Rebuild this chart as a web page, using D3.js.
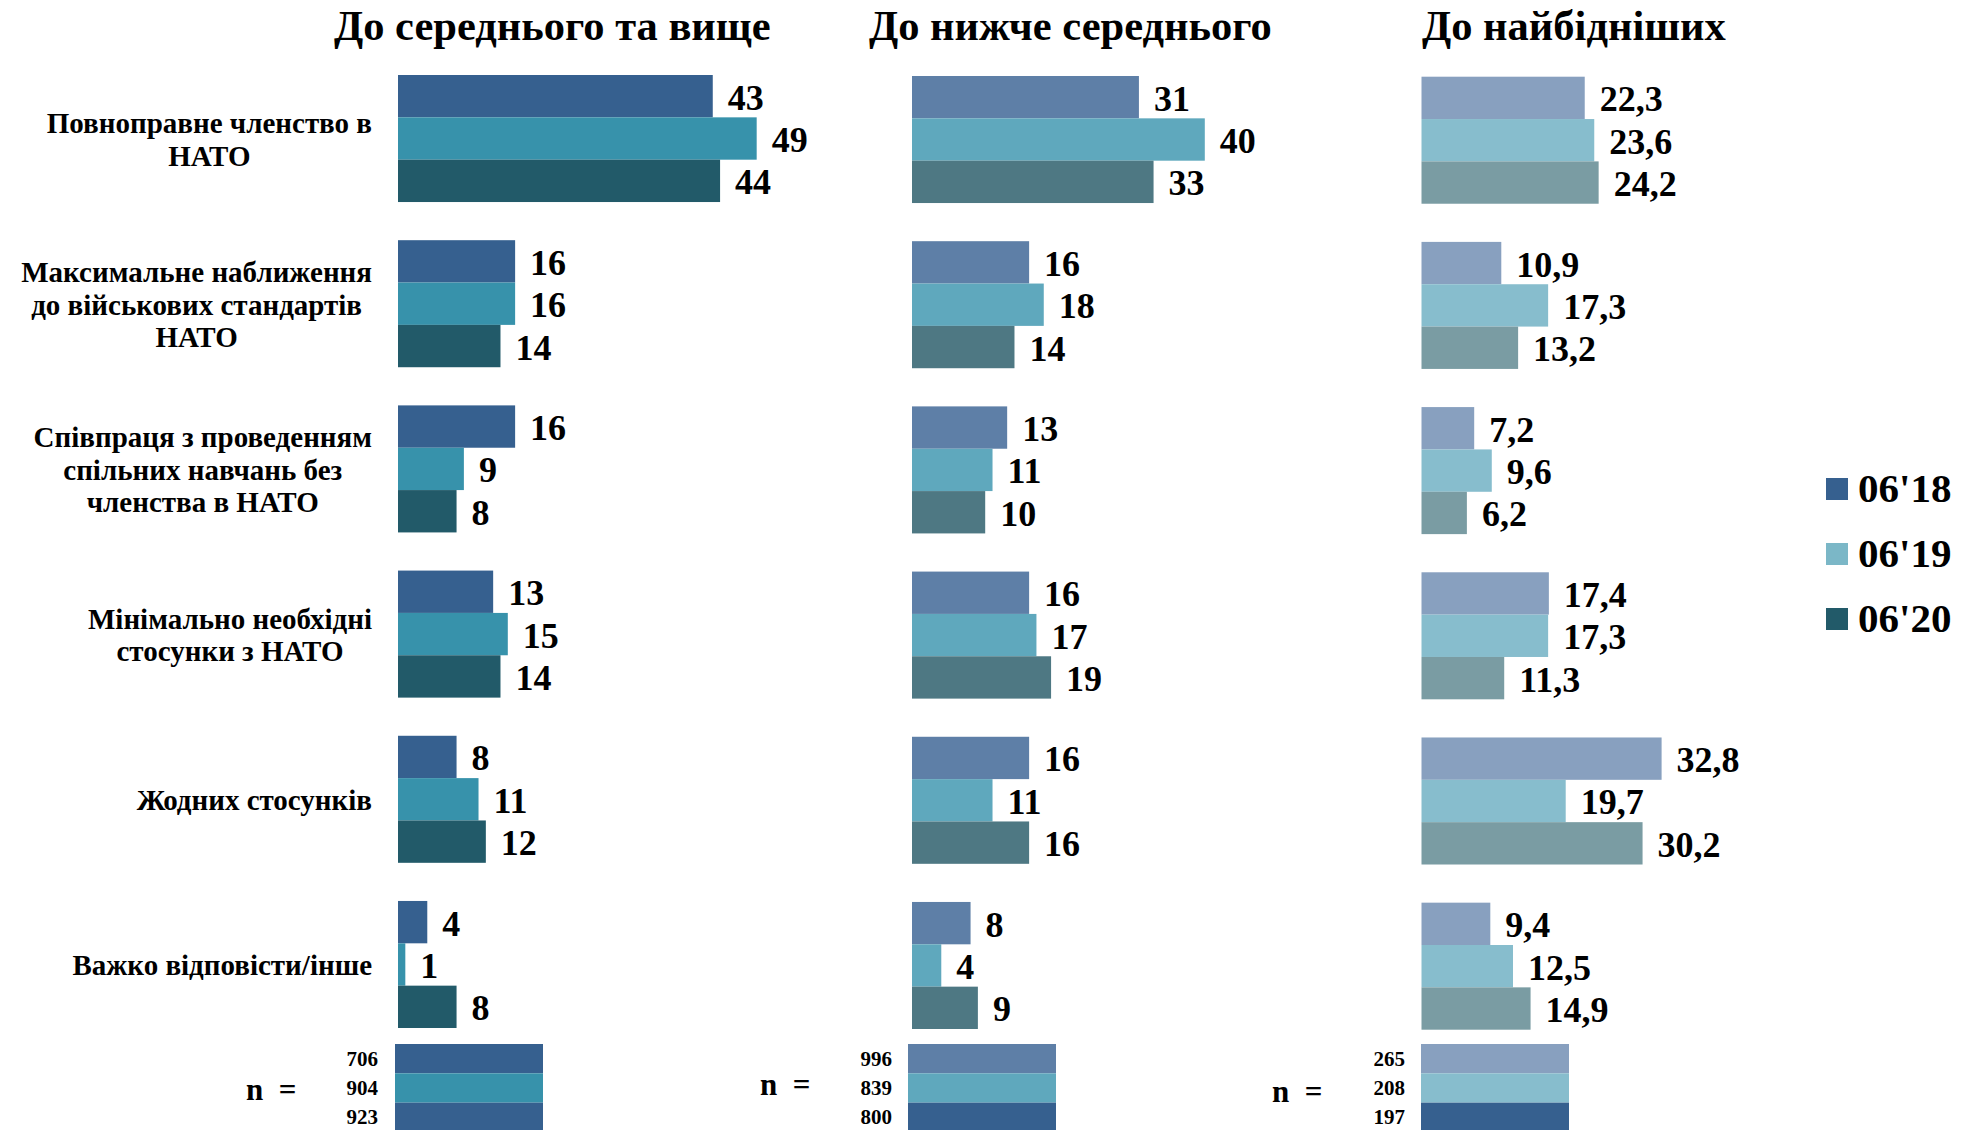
<!DOCTYPE html>
<html>
<head>
<meta charset="utf-8">
<script src="https://cdn.jsdelivr.net/npm/d3@7"></script>
<style>
  html, body { margin: 0; padding: 0; background: #ffffff; }
  svg { display: block; font-family: "Liberation Serif", "Times New Roman", serif; font-weight: bold; }
</style>
</head>
<body>
<svg id="chart" width="1978" height="1130"></svg>
<script>
// ---------- DATA ----------
const categories = [
  "Повноправне членство в НАТО",
  "Максимальне наближення до військових стандартів НАТО",
  "Співпраця з проведенням спільних навчань без членства в НАТО",
  "Мінімально необхідні стосунки з НАТО",
  "Жодних стосунків",
  "Важко відповісти/інше"
];
const categoryLines = [
  ["Повноправне членство в", "НАТО"],
  ["Максимальне наближення", "до військових стандартів", "НАТО"],
  ["Співпраця з проведенням", "спільних навчань без", "членства в НАТО"],
  ["Мінімально необхідні", "стосунки з НАТО"],
  ["Жодних стосунків"],
  ["Важко відповісти/інше"]
];
const seriesNames = ["06'18", "06'19", "06'20"];
const panelTitles = ["До середнього та вище", "До нижче середнього", "До найбідніших"];

// panel 1: До середнього та вище
const midHigh18 = [43, 16, 16, 13, 8, 4];
const midHigh19 = [49, 16, 9, 15, 11, 1];
const midHigh20 = [44, 14, 8, 14, 12, 8];
// panel 2: До нижче середнього
const belowMid18 = [31, 16, 13, 16, 16, 8];
const belowMid19 = [40, 18, 11, 17, 11, 4];
const belowMid20 = [33, 14, 10, 19, 16, 9];
// panel 3: До найбідніших
const poorest18 = [22.3, 10.9, 7.2, 17.4, 32.8, 9.4];
const poorest19 = [23.6, 17.3, 9.6, 17.3, 19.7, 12.5];
const poorest20 = [24.2, 13.2, 6.2, 11.3, 30.2, 14.9];

const nMidHigh = [706, 904, 923];
const nBelowMid = [996, 839, 800];
const nPoorest = [265, 208, 197];

// ---------- STYLE / LAYOUT ----------
const panelColors = [
  ["#36608f", "#3792ab", "#225a69"],
  ["#5e7fa7", "#5fa8bd", "#4e7883"],
  ["#88a0bf", "#87bdcd", "#7a9ca3"]
];
const nColors = [
  ["#36608f", "#3792ab", "#36608f"],
  ["#5e7fa7", "#5fa8bd", "#36608f"],
  ["#88a0bf", "#87bdcd", "#36608f"]
];
const legendColors = ["#36608f", "#7bb7c7", "#225a69"];

const panels = [
  { title: panelTitles[0], series: [midHigh18, midHigh19, midHigh20], n: nMidHigh, x0: 398, titleX: 334, dy: 0,
    nLabelX: 246, nLabelY: 1100, nNumX: 378, nBarX: 395, decimals: false },
  { title: panelTitles[1], series: [belowMid18, belowMid19, belowMid20], n: nBelowMid, x0: 912, titleX: 869, dy: 1,
    nLabelX: 760, nLabelY: 1095, nNumX: 892, nBarX: 908, decimals: false },
  { title: panelTitles[2], series: [poorest18, poorest19, poorest20], n: nPoorest, x0: 1421.5, titleX: 1422, dy: 1.7,
    nLabelX: 1272, nLabelY: 1102, nNumX: 1405, nBarX: 1421, decimals: true }
];

const svg = d3.select("#chart");

const x = d3.scaleLinear().domain([0, 50]).range([0, 366]);
const y = d3.scaleBand().domain(categories).range([75, 1028]).paddingInner(0.231).paddingOuter(0);
const ySub = d3.scaleBand().domain(seriesNames).range([0, y.bandwidth()]).padding(0);
const nRow = d3.scaleBand().domain(seriesNames).range([1044, 1132]).padding(0);

const fmt = (v, dec) => dec ? d3.format(".1f")(v).replace(".", ",") : d3.format("d")(v);

panels.forEach((p, pi) => {
  const g = svg.append("g");
  // title
  g.append("text")
    .attr("x", p.titleX).attr("y", 40)
    .attr("font-size", 42.5)
    .attr("fill", "#000")
    .text(p.title);

  // bars
  p.series.forEach((vals, si) => {
    const sg = g.append("g").attr("transform", `translate(0,${p.dy})`);
    sg.selectAll("rect").data(vals).join("rect")
      .attr("x", p.x0)
      .attr("y", (d, i) => y(categories[i]) + ySub(seriesNames[si]))
      .attr("width", d => x(d))
      .attr("height", ySub.bandwidth())
      .attr("fill", panelColors[pi][si]);
    sg.selectAll("text").data(vals).join("text")
      .attr("x", d => p.x0 + x(d) + 15)
      .attr("y", (d, i) => y(categories[i]) + ySub(seriesNames[si]) + ySub.bandwidth() / 2 + 13.5)
      .attr("font-size", 36)
      .attr("fill", "#000")
      .text(d => fmt(d, p.decimals));
  });

  // n row
  g.append("text")
    .attr("x", p.nLabelX).attr("y", p.nLabelY)
    .attr("font-size", 31)
    .style("white-space", "pre")
    .attr("xml:space", "preserve")
    .text("n  =");
  g.selectAll("rect.n").data(p.n).join("rect").attr("class", "n")
    .attr("x", p.nBarX)
    .attr("y", (d, i) => nRow(seriesNames[i]))
    .attr("width", 148)
    .attr("height", nRow.bandwidth())
    .attr("fill", (d, i) => nColors[pi][i]);
  g.selectAll("text.n").data(p.n).join("text").attr("class", "n")
    .attr("x", p.nNumX)
    .attr("y", (d, i) => nRow(seriesNames[i]) + nRow.bandwidth() / 2 + 7)
    .attr("text-anchor", "end")
    .attr("font-size", 21)
    .text(d => d);
});

// category labels
const catFs = 29, catLh = 32.5, catRight = 372;
categoryLines.forEach((lines, ci) => {
  const g = svg.append("g");
  const cy = y(categories[ci]) + y.bandwidth() / 2;
  const texts = lines.map((ln, li) => g.append("text")
    .attr("y", cy + (li - (lines.length - 1) / 2) * catLh + 11)
    .attr("font-size", catFs)
    .attr("text-anchor", "middle")
    .attr("fill", "#000")
    .text(ln));
  const maxW = d3.max(texts, t => t.node().getComputedTextLength());
  texts.forEach(t => t.attr("x", catRight - maxW / 2));
});

// legend
const lg = svg.append("g");
seriesNames.forEach((s, i) => {
  lg.append("rect").attr("x", 1826).attr("y", 478 + i * 65).attr("width", 22).attr("height", 22)
    .attr("fill", legendColors[i]);
  lg.append("text").attr("x", 1858).attr("y", 502 + i * 65)
    .attr("font-size", 41).attr("fill", "#000").text(s);
});
</script>
</body>
</html>
